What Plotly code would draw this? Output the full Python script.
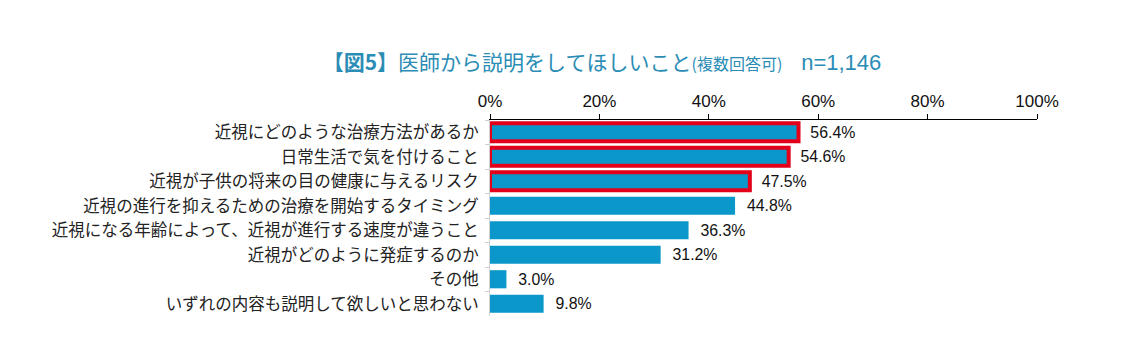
import plotly.graph_objects as go

categories = [
    "近視にどのような治療方法があるか",
    "日常生活で気を付けること",
    "近視が子供の将来の目の健康に与えるリスク",
    "近視の進行を抑えるための治療を開始するタイミング",
    "近視になる年齢によって、近視が進行する速度が違うこと",
    "近視がどのように発症するのか",
    "その他",
    "いずれの内容も説明して欲しいと思わない",
]
values = [56.4, 54.6, 47.5, 44.8, 36.3, 31.2, 3.0, 9.8]
highlighted = [True, True, True, False, False, False, False, False]
tick_vals = [0, 20, 40, 60, 80, 100]
tick_text = ["0%", "20%", "40%", "60%", "80%", "100%"]

BAR = "#0b97c9"
RED = "#e3001b"
LATIN = "Liberation Sans, Arial, sans-serif"
CJK = "Noto Sans CJK JP, sans-serif"

# page body has an 8px default margin; figure sized to fit the 1128x360 window
W, H = 1112, 344
OFF = 8

fig = go.Figure()
fig.add_trace(go.Bar(
    y=categories,
    x=values,
    orientation="h",
    marker=dict(
        color=BAR,
        line=dict(
            color=[RED if h else BAR for h in highlighted],
            width=[4 if h else 0 for h in highlighted],
        ),
    ),
    text=["  %.1f%%" % v for v in values],
    textposition="outside",
    textfont=dict(family=LATIN, size=17.5, color="#111"),
    cliponaxis=False,
    hoverinfo="skip",
))

title_text = (
    "<b>【図5】</b>医師から説明をしてほしいこと"
    "<span style='font-size:16px'>(複数回答可)</span>"
    "\u00a0\u00a0\u00a0\u00a0"
    "<span style='font-family:Liberation Sans, Arial, sans-serif;font-size:22px'>n=1,146</span>"
)

fig.update_layout(
    width=W,
    height=H,
    margin=dict(l=490 - OFF, r=W - (1037 - OFF), t=120 - OFF, b=H - (316 - OFF), autoexpand=False),
    paper_bgcolor="white",
    plot_bgcolor="white",
    bargap=0.26,
    showlegend=False,
    title=dict(
        text=title_text,
        font=dict(family=CJK, size=21, color="#2b8db5"),
        xref="container", yref="container",
        x=(602 - OFF) / W, y=1 - (63 - OFF) / H,
        xanchor="center", yanchor="middle",
        automargin=False,
    ),
    xaxis=dict(
        side="top",
        range=[0, 100],
        tickvals=tick_vals,
        ticktext=tick_text,
        ticks="outside",
        ticklen=5,
        tickcolor="#000",
        showline=True,
        linecolor="#000",
        linewidth=1,
        showgrid=False,
        zeroline=False,
        automargin=False,
        tickfont=dict(family=LATIN, size=17, color="#111"),
    ),
    yaxis=dict(
        autorange="reversed",
        showline=True,
        linecolor="#d0d0d0",
        linewidth=1,
        ticks="outside",
        tickson="boundaries",
        ticklen=4,
        tickcolor="#d0d0d0",
        ticklabelstandoff=7,
        showgrid=False,
        automargin=False,
        tickfont=dict(family=CJK, size=16.5, color="#222"),
    ),
)

fig.write_html("out.html")
